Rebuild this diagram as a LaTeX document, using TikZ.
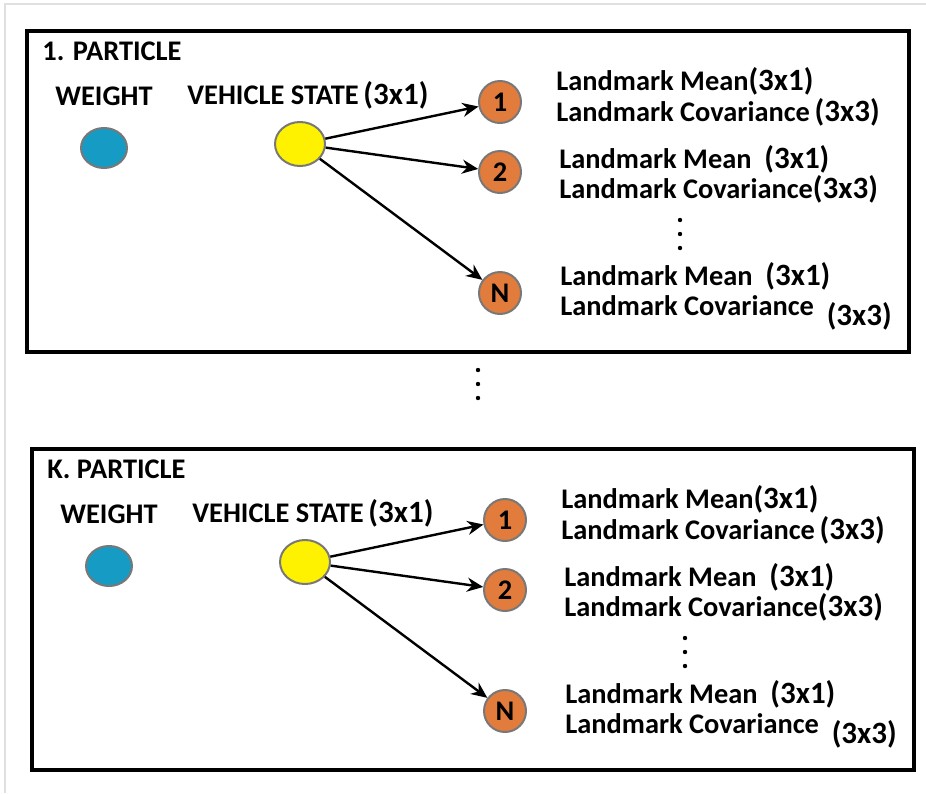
\documentclass[tikz,border=0pt]{standalone}
\usepackage{fontspec}
\setmainfont{Carlito}
\usetikzlibrary{arrows.meta, positioning, shapes.geometric}
\definecolor{weightblue}{RGB}{22,156,196}
\definecolor{lmorange}{RGB}{225,124,60}
\definecolor{ringgray}{RGB}{120,120,120}
\newcommand{\dimsize}{\fontsize{15.5}{17}\selectfont}
\tikzset{
    particle/.style={
        x=0.5pt, y=-0.5pt,
        font=\bfseries\fontsize{14.2}{16}\selectfont,
        >={Stealth[length=8pt, width=7pt]},
        panel/.style={draw, line width=2pt},
        tag/.style={anchor=base west, inner sep=0pt},
        weightdot/.style={ellipse, draw=ringgray, line width=1pt, fill=weightblue, minimum width=23pt, minimum height=20pt},
        statedot/.style={ellipse, draw=ringgray, line width=1pt, fill=yellow, minimum width=25pt, minimum height=22pt},
        lmdot/.style={circle, draw=ringgray, line width=1pt, fill=lmorange, minimum size=21pt, inner sep=0pt},
        link/.style={line width=1.2pt, ->},
        dot/.style={circle, fill=black, inner sep=0pt, minimum size=2.2pt}
    }
}

\begin{document}
\begin{tikzpicture}[particle]
    \useasboundingbox (0,0) rectangle (926,793);
    % faint page frame
    \draw[black!12, line width=1pt] (5,793) -- (5,4) -- (926,4);

    % one panel per particle
    \foreach \idx/\dx/\dy in {1/0/0, K/5/418}{
        \begin{scope}[shift={(\dx,\dy)}]
            \draw[panel] (27,31) rectangle (909,352);
            \node[tag] (title-\idx) at (42,60) {\idx. PARTICLE};

            % weight
            \node[anchor=base, inner sep=0pt] (wlabel-\idx) at (104,105) {WEIGHT};
            \node[weightdot] (weight-\idx) at (104,148) {};

            % vehicle state
            \node[tag] (slabel-\idx) at (187,104) {VEHICLE STATE\,{\dimsize(3x1)}};
            \node[statedot] (state-\idx) at (300,144) {};

            % landmarks
            \node[lmdot] (lm1-\idx) at (500,102) {1};
            \node[lmdot] (lm2-\idx) at (500,172) {2};
            \node[lmdot] (lmN-\idx) at (500,293) {N};
            \draw[link] (state-\idx) -- (lm1-\idx);
            \draw[link] (state-\idx) -- (lm2-\idx);
            \draw[link] (state-\idx) -- (lmN-\idx);

            % landmark mean and covariance
            \node[tag] (mean1-\idx) at (556,90) {Landmark Mean{\dimsize(3x1)}};
            \node[tag] (cov1-\idx) at (556,121) {Landmark Covariance\,{\dimsize(3x3)}};
            \node[tag] (mean2-\idx) at (559,168) {Landmark Mean\ \ {\dimsize(3x1)}};
            \node[tag] (cov2-\idx) at (559,198) {Landmark Covariance{\dimsize(3x3)}};
            \foreach \yy in {220,234,248}
                \node[dot] at (680,\yy) {};
            \node[tag] (meanN-\idx) at (560,285) {Landmark Mean\ \ {\dimsize(3x1)}};
            \node[tag] (covN-\idx) at (560,315) {Landmark Covariance\ \ \raisebox{-5pt}{\dimsize(3x3)}};
        \end{scope}
    }

    % more particles in between
    \foreach \yy in {370,384,398}
        \node[dot] at (478,\yy) {};
\end{tikzpicture}
\end{document}
